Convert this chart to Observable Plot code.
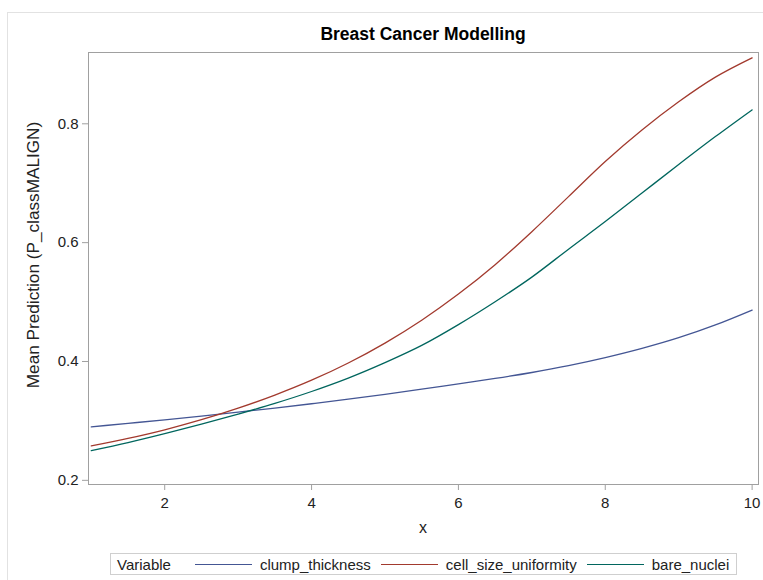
<!DOCTYPE html>
<html>
<head>
<meta charset="utf-8">
<script src="https://cdn.jsdelivr.net/npm/d3@7"></script>
<script src="https://cdn.jsdelivr.net/npm/@observablehq/plot@0.6"></script>
<style>
  html, body { margin: 0; padding: 0; background: #fff; }
  #wrap { position: relative; width: 763px; height: 580px; overflow: hidden; font-family: "Liberation Sans", Arial, sans-serif; color: #222; }
  #outer { position: absolute; left: 7px; top: 12px; width: 800px; height: 600px; border: 1px solid #e2e2e2; }
  #chart { position: absolute; left: 0; top: 0; }
  #title { position: absolute; left: 88px; width: 670px; top: 24px; text-align: center; font-weight: bold; font-size: 17.5px; color: #000; }
  #xlabel { position: absolute; left: 88px; width: 670px; top: 519px; text-align: center; font-size: 16px; color: #222; }
  #ylabel { position: absolute; left: 33px; top: 255px; transform: translate(-50%, -50%) rotate(-90deg); white-space: nowrap; font-size: 17.2px; color: #222; }
  #legend { position: absolute; left: 110px; top: 553px; width: 625px; height: 20px; border: 1px solid #cfcfcf; display: flex; align-items: center; font-size: 15px; color: #222; }
  #legend .sw { display: inline-block; width: 57px; height: 0; border-top: 1.3px solid; margin: 0 8px 0 0; }
  #legend .it { display: flex; align-items: center; margin-right: 10px; }
</style>
</head>
<body>
<div id="wrap">
  <div id="outer"></div>
  <div id="chart"></div>
  <div id="title">Breast Cancer Modelling</div>
  <div id="xlabel">x</div>
  <div id="ylabel">Mean Prediction (P_classMALIGN)</div>
  <div id="legend"></div>
</div>
<script>
const xValues = [1, 1.5, 2, 2.5, 3, 3.5, 4, 4.5, 5, 5.5, 6, 6.5, 7, 7.5, 8, 8.5, 9, 9.5, 10];
const clumpThickness = [0.290, 0.2959, 0.3019, 0.3082, 0.3148, 0.3216, 0.3289, 0.3365, 0.3447, 0.3534, 0.3625, 0.3715, 0.3815, 0.3930, 0.4065, 0.4220, 0.4400, 0.4615, 0.4865];
const cellSizeUniformity = [0.258, 0.2705, 0.285, 0.302, 0.3215, 0.3435, 0.3685, 0.3975, 0.431, 0.4695, 0.5135, 0.563, 0.6185, 0.6775, 0.7365, 0.7895, 0.837, 0.8785, 0.911];
const bareNuclei = [0.250, 0.2635, 0.2785, 0.2945, 0.3115, 0.3295, 0.3495, 0.372, 0.398, 0.427, 0.462, 0.5005, 0.542, 0.589, 0.6355, 0.6835, 0.7315, 0.7785, 0.8235];
const seriesNames = ["clump_thickness", "cell_size_uniformity", "bare_nuclei"];
const seriesColors = ["#445694", "#A23A2E", "#01665E"];
const xTicks = [2, 4, 6, 8, 10];
const yTicks = [0.2, 0.4, 0.6, 0.8];
const legendTitle = "Variable";

const seriesValues = [clumpThickness, cellSizeUniformity, bareNuclei];
const rows = [];
seriesNames.forEach((name, i) => {
  xValues.forEach((x, j) => rows.push({variable: name, x, y: seriesValues[i][j]}));
});

const chart = Plot.plot({
  width: 763,
  height: 545,
  marginLeft: 88,
  marginRight: 5,
  marginTop: 52,
  marginBottom: 61,
  style: {fontFamily: "'Liberation Sans', Arial, sans-serif", fontSize: "15px", color: "#222", background: "transparent"},
  x: {domain: [0.962, 10.087]},
  y: {domain: [0.193, 0.920]},
  color: {domain: seriesNames, range: seriesColors},
  marks: [
    Plot.frame({stroke: "#a0a0a0"}),
    Plot.axisX({ticks: xTicks, tickSize: 6, tickPadding: 7, stroke: "#a0a0a0", label: null, tickFormat: d3.format("d")}),
    Plot.axisY({ticks: yTicks, tickSize: 6, tickPadding: 4, stroke: "#a0a0a0", label: null, tickFormat: d3.format(".1f")}),
    Plot.line(rows, {x: "x", y: "y", z: "variable", stroke: "variable", strokeWidth: 1.3, curve: "monotone-x"})
  ]
});
document.getElementById("chart").appendChild(chart);

const legend = document.getElementById("legend");
const lt = document.createElement("span");
lt.textContent = legendTitle;
lt.style.margin = "0 24px 0 6px";
legend.appendChild(lt);
seriesNames.forEach((name, i) => {
  const it = document.createElement("span");
  it.className = "it";
  const sw = document.createElement("span");
  sw.className = "sw";
  sw.style.borderTopColor = seriesColors[i];
  const tx = document.createElement("span");
  tx.textContent = name;
  it.appendChild(sw);
  it.appendChild(tx);
  legend.appendChild(it);
});
</script>
</body>
</html>
